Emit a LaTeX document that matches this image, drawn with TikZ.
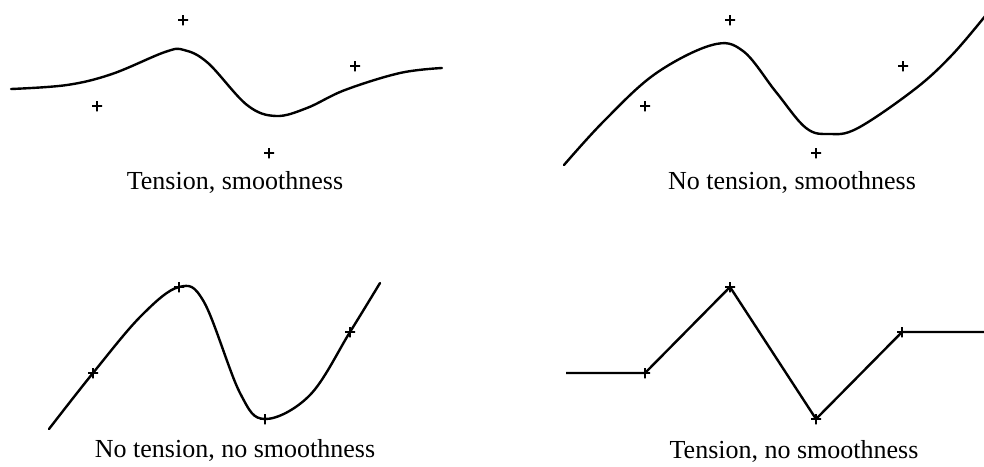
\documentclass[tikz,border=0pt]{standalone}
\usepackage{fontspec}
\setmainfont{Liberation Serif}
\begin{document}
\begin{tikzpicture}[
    x=1pt,
    y=-1pt,
    line cap=round,
    line join=round,
    curve/.style={
        line width=2.4pt
    },
    ctrl/.style={
        inner sep=0pt,
        minimum size=10pt,
        path picture={
            \draw[line width=1.1pt]
                (path picture bounding box.north)--(path picture bounding box.south)
                (path picture bounding box.west)--(path picture bounding box.east);
        }
    },
    caption/.style={
        anchor=base,
        font=\fontsize{26}{30}\selectfont
    }
]

\useasboundingbox (0,0) rectangle (984,466);

% =================================================
% Tension, smoothness
% =================================================

\node[ctrl] (a1) at (97,106) {};
\node[ctrl] (a2) at (183,20) {};
\node[ctrl] (a3) at (269,153) {};
\node[ctrl] (a4) at (355,66) {};

\draw[curve] plot[smooth, tension=0.6] coordinates {
    (11,89) (67,85) (112,74) (165,52) (184,50) (208,63)
    (247,105) (276,116) (307,108) (345,90) (400,73) (442,68)};

\node[caption] (capA) at (235,189) {Tension, smoothness};

% =================================================
% No tension, smoothness
% =================================================

\node[ctrl] (b1) at (645,106) {};
\node[ctrl] (b2) at (730,20) {};
\node[ctrl] (b3) at (816,153) {};
\node[ctrl] (b4) at (903,66) {};

\draw[curve] plot[smooth, tension=0.6] coordinates {
    (564,165) (604,121) (655,74) (712,45) (743,51) (776,92)
    (806,128) (830,134) (858,128) (915,89) (952,55) (986,15)};

\node[caption] (capB) at (792,189) {No tension, smoothness};

% =================================================
% No tension, no smoothness
% =================================================

\node[ctrl] (c1) at (93,373) {};
\node[ctrl] (c2) at (179,287) {};
\node[ctrl] (c3) at (265,419) {};
\node[ctrl] (c4) at (350,332) {};

\draw[curve] plot[smooth, tension=0.6] coordinates {
    (49,429) (c1.center) (141,316) (c2.center) (204,302)
    (240,393) (c3.center) (310,395) (c4.center) (380,283)};

\node[caption] (capC) at (235,457) {No tension, no smoothness};

% =================================================
% Tension, no smoothness
% =================================================

\node[ctrl] (d1) at (645,373) {};
\node[ctrl] (d2) at (730,287) {};
\node[ctrl] (d3) at (816,419) {};
\node[ctrl] (d4) at (902,332) {};

\coordinate (dL) at (566,373);
\coordinate (dR) at (986,332);

\draw[curve, line cap=butt]
    (dL)--(d1.center)--(d2.center)--(d3.center)--(d4.center)--(dR);

\node[caption] (capD) at (794,458) {Tension, no smoothness};

\end{tikzpicture}
\end{document}
